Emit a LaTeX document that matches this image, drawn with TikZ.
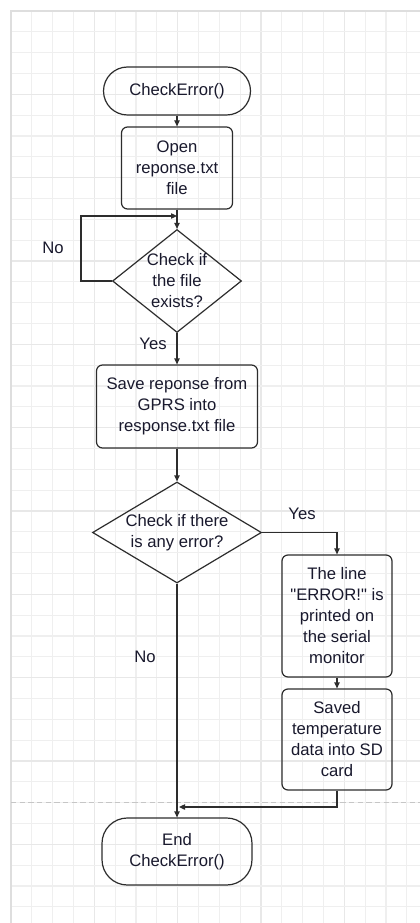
\documentclass[tikz,border=0pt]{standalone}
\usepackage{fontspec}
\setmainfont{Liberation Sans}[Ligatures=TeXOff]
\usetikzlibrary{shapes.geometric,arrows.meta}
\definecolor{gridminor}{RGB}{239,239,239}
\definecolor{gridmajor}{RGB}{232,232,232}
\definecolor{gridborder}{RGB}{222,222,222}
\definecolor{linecol}{RGB}{45,45,45}
\definecolor{txtcol}{RGB}{25,25,45}
\tikzset{
  x=0.75pt, y=-0.75pt,
  every node/.style={font=\fontsize{12.5}{15.75}\selectfont, text=txtcol, align=center, inner sep=0pt},
  terminal/.style={draw=linecol, line width=0.9pt, rectangle, rounded corners=18pt},
  procbox/.style={draw=linecol, line width=0.9pt, rectangle, rounded corners=4.5pt},
  decision/.style={draw=linecol, line width=0.9pt, diamond, inner sep=0pt},
  conn/.style={draw=linecol, line width=0.9pt, -{Triangle[length=4.5pt,width=4pt]}},
  lbl/.style={font=\fontsize{12.5}{15.75}\selectfont}
}
\begin{document}
\begin{tikzpicture}
\useasboundingbox (0,0) rectangle (420,923);
\fill[white] (0,0) rectangle (420,923);
% grid
\foreach \k in {0,...,19} {
  \pgfmathsetmacro{\xx}{11+\k*20.8333}
  \pgfmathtruncatemacro{\m}{mod(\k,4)}
  \ifnum\m=0
    \draw[gridmajor, line width=0.9pt] (\xx,11) -- (\xx,923);
  \else
    \draw[gridminor, line width=0.9pt] (\xx,11) -- (\xx,923);
  \fi
}
\foreach \k in {0,...,43} {
  \pgfmathsetmacro{\yy}{11+\k*20.8333}
  \pgfmathtruncatemacro{\m}{mod(\k,4)}
  \ifnum\m=0
    \draw[gridmajor, line width=0.9pt] (11,\yy) -- (420,\yy);
  \else
    \draw[gridminor, line width=0.9pt] (11,\yy) -- (420,\yy);
  \fi
}
\draw[gridborder, line width=1.1pt] (11,923) -- (11,11) -- (420,11);
\draw[gray!45, line width=0.9pt, dash pattern=on 4pt off 2.5pt] (11,802.5) -- (420,802.5);

% nodes
\node[terminal, minimum width=147*0.75pt, minimum height=48*0.75pt] (start) at (177,91) {CheckError()};
\node[procbox, minimum width=111*0.75pt, minimum height=82*0.75pt] (open) at (177,168) {Open\\reponse.txt\\file};
\node[decision, minimum width=129*0.75pt, minimum height=103*0.75pt] (d1) at (177,281) {};
\node (d1t) at (177,281) {Check if\\the file\\exists?};
\node[procbox, minimum width=161*0.75pt, minimum height=83*0.75pt] (save) at (177,406.5) {Save reponse from\\GPRS into\\response.txt file};
\node[decision, minimum width=169*0.75pt, minimum height=101*0.75pt] (d2) at (177,532.5) {};
\node (d2t) at (177,532.5) {Check if there\\is any error?};
\node[procbox, minimum width=110*0.75pt, minimum height=122*0.75pt] (err) at (337,616) {The line\\"ERROR!" is\\printed on\\the serial\\monitor};
\node[procbox, minimum width=110*0.75pt, minimum height=101*0.75pt] (saved) at (337,739.5) {Saved\\temperature\\data into SD\\card};
\node[terminal, minimum width=150*0.75pt, minimum height=67*0.75pt, rounded corners=19pt] (end) at (177,851.5) {End\\CheckError()};

% labels
\node[lbl] (no1) at (53,248) {No};
\node[lbl] (yes1) at (153,344) {Yes};
\node[lbl] (yes2) at (302,514) {Yes};
\node[lbl] (no2) at (145,657) {No};

% helper coordinates
\coordinate (loopL) at (81,216);
\coordinate (loopIn) at (177,216);
\coordinate (mergeIn) at (179,807);

% connectors
\draw[conn] (start.south) -- (open.north);
\draw[conn] (open.south) -- (d1.north);
\draw[conn] (d1.west) -| (loopL) -- (loopIn);
\draw[conn] (d1.south) -- (save.north);
\draw[conn] (save.south) -- (d2.north);
\draw[conn] (d2.east) -| (err.north);
\draw[conn] (err.south) -- (saved.north);
\draw[conn] (saved.south) |- (mergeIn);
\draw[conn] (d2.south) -- (end.north);
\end{tikzpicture}
\end{document}
